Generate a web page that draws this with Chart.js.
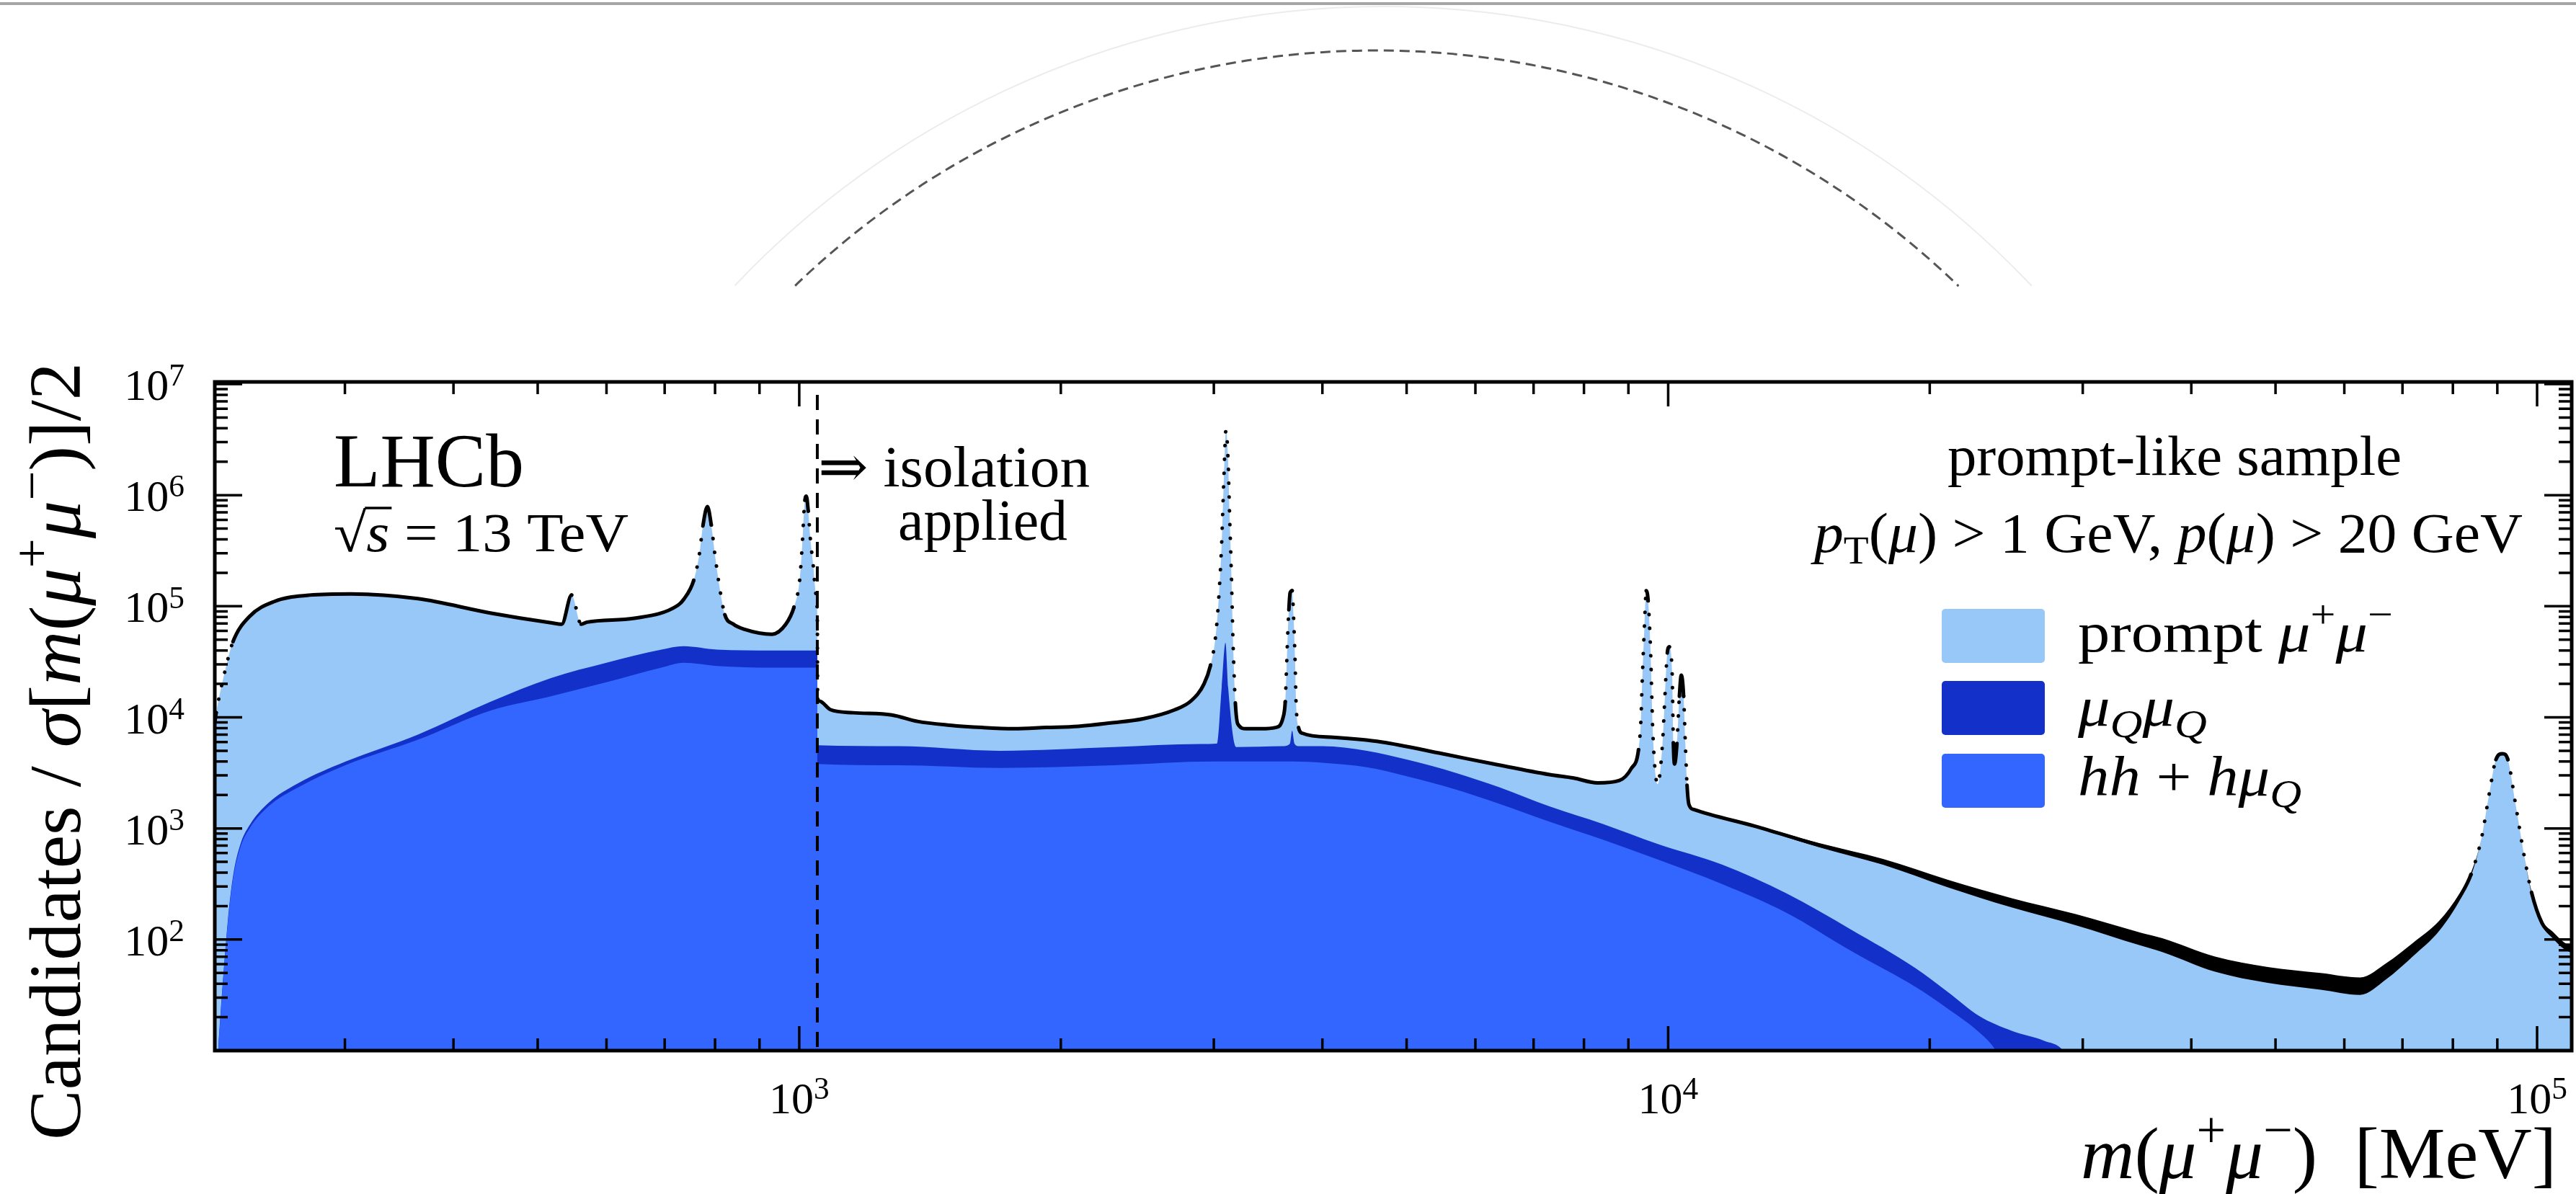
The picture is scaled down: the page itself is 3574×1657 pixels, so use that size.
<!DOCTYPE html>
<html>
<head>
<meta charset="utf-8">
<script src="https://cdn.jsdelivr.net/npm/chart.js@4.4.1/dist/chart.umd.min.js"></script>
<style>html,body{margin:0;padding:0;background:#fff;}canvas{display:block;}</style>
</head>
<body>
<canvas id="c" width="3574" height="1657"></canvas>
<script>
// ---------------- data ----------------
// total prompt-like sample (data points / top of the light-blue area), m in MeV
const promptMass = [212.5,213.3,218.8,223,233,248.5,273,305,364,441,518,533,547,561,570,646,
  725,736,756,767,775,784,792,800,810,821,840,865,930,965,986,1001,1008,1015,1019,1024,1030,1038,1045,1049,
  1050,1055,1087,1154,1278,1368,1491,1623,1767,1925,2094,2282,2487,2705,2825,2923,2974,3011,3038,3063,3081,
  3098,3116,3127,3143,3156,3176,3197,3266,3402,3534,3602,3625,3637,3649,3660,3672,3692,3707,3720,3731,3755,
  3792,4118,4677,5500,6300,7304,7785,8297,8785,9070,9244,9303,9333,9393,9435,9483,9542,9603,9727,9851,9915,
  9977,10030,10106,10139,10170,10235,10302,10354,10418,10466,10513,10566,10702,12570,14890,17670,20960,24850,
  29440,34950,37040,42600,48980,56330,62560,67080,71940,77160,81600,83930,86300,88130,89670,91260,92540,94490,
  96500,98540,101300,104200,107200,109600];
const promptYield = [9000,1.1e4,2.8e4,4.8e4,8.1e4,1.10e5,1.26e5,1.29e5,1.17e5,8.7e4,7.1e4,6.9e4,1.26e5,6.9e4,7.2e4,7.8e4,
  1.02e5,1.15e5,1.71e5,2.86e5,5.4e5,7.9e5,5.4e5,2.86e5,1.45e5,8.4e4,6.9e4,6.2e4,5.6e4,6.9e4,9.8e4,1.71e5,3.6e5,9.0e5,9.8e5,7.2e5,4.0e5,2.28e5,1.29e5,8.0e4,
  1.47e4,1.4e4,1.17e4,1.10e4,1.05e4,9.2e3,8.5e3,8.1e3,7.9e3,8.1e3,8.3e3,8.9e3,9.7e3,1.17e4,1.41e4,2.0e4,2.95e4,5.0e4,1.12e5,3.7e5,1.41e6,
  3.85e6,2.0e6,7.2e5,1.9e5,5.0e4,1.35e4,8.7e3,7.9e3,7.9e3,8.1e3,9.8e3,1.38e4,2.7e4,5.6e4,9.3e4,1.32e5,1.38e5,7.6e4,3.4e4,1.32e4,8.1e3,
  7.2e3,6.6e3,6.0e3,4.7e3,3.8e3,3.05e3,2.84e3,2.57e3,2.7e3,3.47e3,5.1e3,9.3e3,2.0e4,6.9e4,1.38e5,1.12e5,4.2e4,7.2e3,2.5e3,5.8e3,1.55e4,
  3.8e4,4.3e4,2.5e4,5.8e3,3.8e3,5.8e3,1.55e4,2.4e4,1.55e4,5.8e3,2.45e3,1.64e3,1.48e3,1.05e3,710,500,320,214,
  151,101,89,60,48,42,38,52,81,133,248,385,813,2090,4170,4710,4170,1620,
  603,266,141,110,89,81];

// statistical spread of the data points (half width of the black band, in decades)
const noiseMass = [10702,12570,14890,17670,20960,24850,29440,34950,37040,42600,48980,56330,62560,67080,71940,
  77160,81600,83930,86300,88130,89670,91260,92540,94490,96500,98540,101300,104200,107200,109600];
const noiseHalfWidth = [0.004,0.01,0.018,0.026,0.034,0.042,0.05,0.058,0.062,0.068,0.072,0.075,0.078,0.072,0.06,
  0.045,0.03,0.015,0,0,0,0,0,0,0,0.01,0.02,0.03,0.03,0.03];

// top of the muQ muQ band (stacked on hh + h muQ)
const muQMass = [212.5,214.5,219.8,223,227.4,233,245,265,300.6,364,441,518,600,694,736,804,930,1049,
  1050,1300,1700,2300,2900,3024,3063,3094,3116,3183,3600,3670,3692,3715,3760,4000,4500,5000,5700,6400,7300,
  8400,9727,11530,13680,16230,19240,20960,22820,24850,27060,28480,29800];
const muQTop = [3,10.5,138,370,720,1070,1700,2550,4000,7000,1.38e4,2.26e4,3.1e4,4.07e4,4.37e4,4.07e4,4.0e4,4.0e4,
  5.6e3,5.5e3,5.0e3,5.4e3,5.75e3,5.8e3,1.86e4,4.7e4,1.86e4,5.4e3,5.5e3,5.8e3,7.6e3,5.8e3,5.5e3,5.5e3,5.0e3,4.17e3,3.16e3,2.34e3,1.58e3,
  1.10e3,724,473,260,123,55.6,33.9,20.4,15.1,12.3,10,5];

// top of the hh + h muQ component
const hhMass = [212.5,214.5,219.8,223,227.4,233,245,265,300.6,364,441,518,600,694,736,804,930,1049,
  1050,1300,1700,2300,3000,3700,4000,4500,5000,5700,6400,7300,8400,9727,11530,13680,16230,19240,20960,22820,23820,24800];
const hhTop = [3,10,131,351,676,1000,1580,2340,3720,6300,1.15e4,1.55e4,2.07e4,2.8e4,3.1e4,2.9e4,2.8e4,2.8e4,
  3.8e3,3.7e3,3.5e3,3.7e3,4.0e3,4.0e3,3.9e3,3.55e3,2.95e3,2.24e3,1.66e3,1.15e3,794,525,316,174,79,37.6,24,14.5,10,5];

const isolationCut = 1049;              // MeV, dashed line
const xMajorTicks = [1e3, 1e4, 1e5];
const xTickExponents = ['3', '4', '5'];
const yMajorTicks = [1e2, 1e3, 1e4, 1e5, 1e6, 1e7];
const yTickExponents = ['2', '3', '4', '5', '6', '7'];
const legendLabels = ['prompt μ+μ−', 'μQμQ', 'hh + hμQ'];

// ---------------- styling ----------------
const LIGHT = '#97c8f8', DARK = '#1331c8', MID = '#3366fe';
const FAM = '"Liberation Serif","DejaVu Serif","Times New Roman",serif';

const toXY = (ms, vs) => ms.map((m, i) => ({ x: m, y: vs[i] }));
const promptPts = toXY(promptMass, promptYield);
const lookup = new Map();
promptMass.forEach((m, i) => { if (!lookup.has(m)) lookup.set(m, promptYield[i]); });
const noiseHi = noiseMass.map((m, i) => ({ x: m, y: lookup.get(m) * Math.pow(10, noiseHalfWidth[i]) }));
const noiseLo = noiseMass.map((m, i) => ({ x: m, y: lookup.get(m) / Math.pow(10, noiseHalfWidth[i]) }));

const mult = [1, 2, 3, 4, 5, 6, 7, 8, 9];
function tickList(min, max) {
  const out = [];
  for (let e = 1; e <= 7; e++) for (const k of mult) { const v = k * Math.pow(10, e); if (v >= min * 0.999 && v <= max * 1.001) out.push(v); }
  return out;
}
const X_MIN = 212.5, X_MAX = 109600, Y_MIN = 10, Y_MAX = 1.046e7;

function steep(c) {
  const dx = Math.abs(c.p1.x - c.p0.x), dy = Math.abs(c.p1.y - c.p0.y);
  return dy > 3 * dx && dy > 30;
}

function rich(ctx, segs, x, y, F, o) {
  o = o || {};
  const fontOf = s => (s.it ? 'italic ' : '') + (F * (s.sz || 1)).toFixed(1) + 'px ' + FAM;
  let W = 0;
  const ws = segs.map(s => { ctx.font = fontOf(s); const w = ctx.measureText(s.t).width; W += w; return w; });
  let sx = o.width ? o.width / W : 1;
  sx = Math.max(0.8, Math.min(1.25, sx));
  const TW = W * sx;
  const off = o.align === 'right' ? -TW : (o.align === 'center' ? -TW / 2 : 0);
  ctx.save();
  ctx.translate(x, y);
  if (o.rot) ctx.rotate(o.rot);
  ctx.translate(off, 0);
  ctx.scale(sx, 1);
  ctx.fillStyle = o.color || '#000';
  ctx.textAlign = 'left';
  ctx.textBaseline = 'alphabetic';
  let cx = 0; const pos = [];
  segs.forEach((s, i) => { ctx.font = fontOf(s); ctx.fillText(s.t, cx, (s.dy || 0) * F); pos.push(cx); cx += ws[i]; });
  ctx.restore();
  return { pos: pos.map(p => x + off + p * sx), ws: ws.map(w => w * sx) };
}
const SUP = { sz: 0.7, dy: -0.42 }, SUB = { sz: 0.7, dy: 0.2 };

const deco = {
  id: 'deco',
  afterDatasetsDraw(chart) {
    const { ctx, chartArea: a, scales: { x, y } } = chart;
    ctx.save();
    // isolation cut
    const pc = x.getPixelForValue(isolationCut);
    ctx.beginPath();
    ctx.setLineDash([21, 13]);
    ctx.lineWidth = 4; ctx.strokeStyle = '#000';
    ctx.moveTo(pc, a.top + 18); ctx.lineTo(pc, a.bottom);
    ctx.stroke();
    ctx.setLineDash([]);
    // inward ticks on all four sides
    ctx.lineWidth = 3.5;
    ctx.beginPath();
    x.ticks.forEach(t => {
      const px = x.getPixelForValue(t.value);
      const L = xMajorTicks.includes(t.value) ? 34 : 17;
      ctx.moveTo(px, a.bottom); ctx.lineTo(px, a.bottom - L);
      ctx.moveTo(px, a.top); ctx.lineTo(px, a.top + L);
    });
    y.ticks.forEach(t => {
      const py = y.getPixelForValue(t.value);
      const L = (yMajorTicks.includes(t.value) || t.value === 10) ? 38 : 18;
      ctx.moveTo(a.left, py); ctx.lineTo(a.left + L, py);
      ctx.moveTo(a.right, py); ctx.lineTo(a.right - L, py);
    });
    ctx.stroke();
    // frame
    ctx.lineWidth = 5;
    ctx.strokeRect(a.left, a.top, a.right - a.left, a.bottom - a.top);
    ctx.restore();
  },
  afterDraw(chart) {
    const { ctx, scales: { x, y } } = chart;
    ctx.save();
    // screenshot artefacts above the figure
    ctx.fillStyle = '#a6a6a6';
    ctx.fillRect(0, 3, 3574, 4);
    ctx.beginPath();
    ctx.strokeStyle = '#ececec'; ctx.lineWidth = 2;
    ctx.arc(1919, 1247, 1238, -2.384, -0.757);
    ctx.stroke();
    ctx.beginPath();
    ctx.strokeStyle = '#555'; ctx.lineWidth = 3; ctx.setLineDash([14, 8]);
    ctx.arc(1910, 1230, 1160, -2.340, -0.801);
    ctx.stroke();
    ctx.setLineDash([]);
    ctx.restore();

    // tick labels
    yMajorTicks.forEach((v, i) => {
      rich(ctx, [{ t: '10' }, { t: yTickExponents[i], sz: 0.7, dy: -0.32 }], 256, y.getPixelForValue(v) + 22, 62, { align: 'right' });
    });
    xMajorTicks.forEach((v, i) => {
      rich(ctx, [{ t: '10' }, { t: xTickExponents[i], sz: 0.7, dy: -0.32 }], x.getPixelForValue(v), 1545, 62, { align: 'center' });
    });

    // axis titles
    rich(ctx, [{ t: 'm', it: 1 }, { t: '(' }, { t: 'μ', it: 1 }, Object.assign({ t: '+' }, SUP), { t: 'μ', it: 1 }, Object.assign({ t: '−' }, SUP), { t: ')' }, { t: '  [MeV]' }],
      3547, 1635, 102, { align: 'right', width: 660 });
    rich(ctx, [{ t: 'Candidates / ' }, { t: 'σ', it: 1 }, { t: '[' }, { t: 'm', it: 1 }, { t: '(' }, { t: 'μ', it: 1 }, Object.assign({ t: '+' }, SUP), { t: 'μ', it: 1 }, Object.assign({ t: '−' }, SUP), { t: ')]/2' }],
      111, 1582, 102, { rot: -Math.PI / 2, width: 1079 });

    // annotations
    rich(ctx, [{ t: 'LHCb' }], 463, 675, 106, { width: 264 });
    const r = rich(ctx, [{ t: '√' }, { t: 's', it: 1 }, { t: ' = 13 TeV' }], 463, 765, 76, { width: 409 });
    ctx.save();
    ctx.strokeStyle = '#000'; ctx.lineWidth = 3.5;
    ctx.beginPath();
    ctx.moveTo(r.pos[1] - 2, 765 - 60); ctx.lineTo(r.pos[1] + r.ws[1] + 3, 765 - 60);
    ctx.stroke();
    ctx.restore();
    rich(ctx, [{ t: '⇒ ' }, { t: 'isolation' }], 1135, 675, 80, { width: 377 });
    rich(ctx, [{ t: 'applied' }], 1246, 749, 80, { width: 235 });
    rich(ctx, [{ t: 'prompt-like sample' }], 2702, 659, 78, { width: 630 });
    rich(ctx, [{ t: 'p', it: 1 }, Object.assign({ t: 'T' }, SUB), { t: '(' }, { t: 'μ', it: 1 }, { t: ') > 1 GeV, ' }, { t: 'p', it: 1 }, { t: '(' }, { t: 'μ', it: 1 }, { t: ') > 20 GeV' }],
      2517, 766, 78, { width: 983 });

    // legend
    const boxes = [[845, LIGHT], [945, DARK], [1046, MID]];
    boxes.forEach(([top, col]) => {
      ctx.save();
      ctx.fillStyle = col;
      ctx.beginPath();
      if (ctx.roundRect) ctx.roundRect(2694, top, 143, 75, 5); else ctx.rect(2694, top, 143, 75);
      ctx.fill();
      ctx.restore();
    });
    rich(ctx, [{ t: 'prompt ' }, { t: 'μ', it: 1 }, Object.assign({ t: '+' }, SUP), { t: 'μ', it: 1 }, Object.assign({ t: '−' }, SUP)], 2883, 904, 78, { width: 437 });
    rich(ctx, [{ t: 'μ', it: 1 }, Object.assign({ t: 'Q', it: 1 }, SUB), { t: 'μ', it: 1 }, Object.assign({ t: 'Q', it: 1 }, SUB)], 2883, 1007, 78, { width: 179 });
    rich(ctx, [{ t: 'hh', it: 1 }, { t: ' + ' }, { t: 'h', it: 1 }, { t: 'μ', it: 1 }, Object.assign({ t: 'Q', it: 1 }, SUB)], 2883, 1104, 78, { width: 310 });
  }
};

const area = { pointRadius: 0, borderWidth: 0, borderColor: 'transparent', cubicInterpolationMode: 'monotone' };
new Chart(document.getElementById('c').getContext('2d'), {
  type: 'line',
  data: {
    datasets: [
      { label: 'data', data: promptPts, borderColor: '#000', borderWidth: 5, pointRadius: 0, fill: false,
        cubicInterpolationMode: 'monotone', borderCapStyle: 'round', borderJoinStyle: 'round',
        segment: { borderDash: c => steep(c) ? [0.1, 19] : undefined } },
      Object.assign({ label: 'spread+', data: noiseHi, fill: '+1', backgroundColor: '#000' }, area),
      Object.assign({ label: 'spread-', data: noiseLo, fill: false }, area),
      Object.assign({ label: legendLabels[2], data: toXY(hhMass, hhTop), fill: 'start', backgroundColor: MID }, area),
      Object.assign({ label: legendLabels[1], data: toXY(muQMass, muQTop), fill: 'start', backgroundColor: DARK }, area),
      Object.assign({ label: legendLabels[0], data: promptPts, fill: 'start', backgroundColor: LIGHT }, area)
    ]
  },
  options: {
    responsive: false,
    animation: false,
    devicePixelRatio: 1,
    layout: { padding: { left: 0, right: 6, top: 530, bottom: 0 } },
    plugins: { legend: { display: false }, tooltip: { enabled: false } },
    scales: {
      x: {
        type: 'logarithmic', min: X_MIN, max: X_MAX,
        ticks: { display: false }, grid: { display: false }, border: { display: false },
        afterBuildTicks: s => { s.ticks = tickList(X_MIN, X_MAX).map(v => ({ value: v })); },
        afterFit: s => { s.height = 199; }
      },
      y: {
        type: 'logarithmic', min: Y_MIN, max: Y_MAX,
        ticks: { display: false }, grid: { display: false }, border: { display: false },
        afterBuildTicks: s => { s.ticks = tickList(Y_MIN, Y_MAX).map(v => ({ value: v })); },
        afterFit: s => { s.width = 298; }
      }
    }
  },
  plugins: [deco]
});
</script>
</body>
</html>
